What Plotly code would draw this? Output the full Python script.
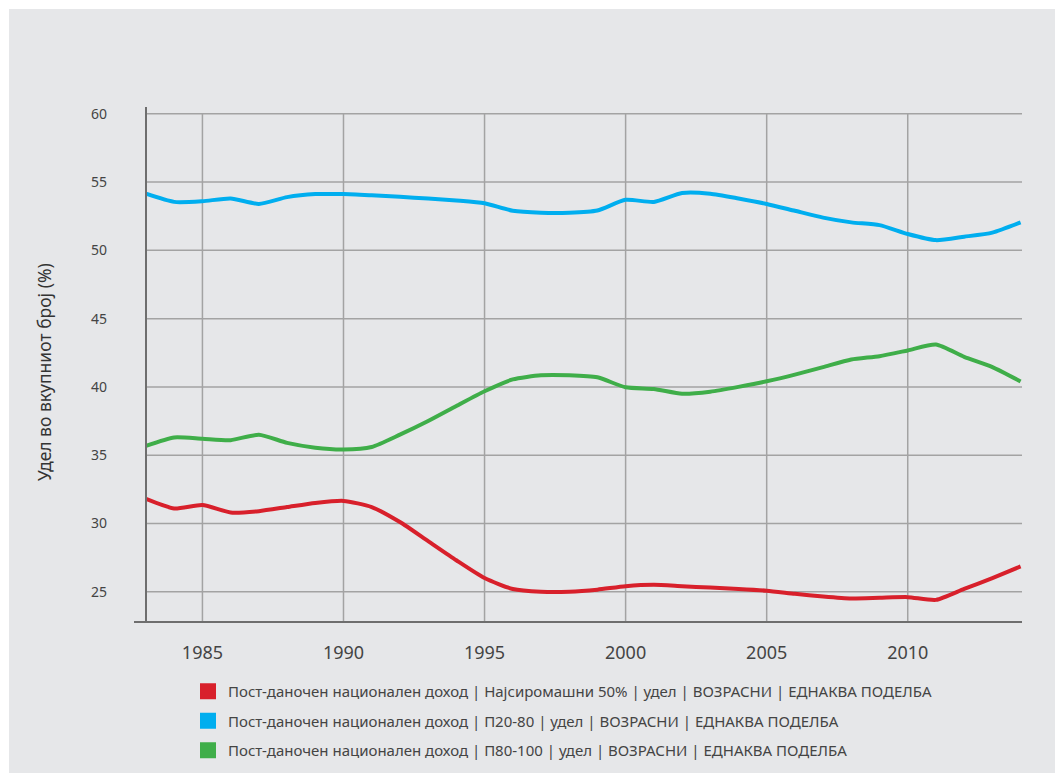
import plotly.graph_objects as go

years = list(range(1983, 2015))

# Најсиромашни 50%
bottom50 = [31.8, 31.1, 31.35, 30.8, 30.9, 31.2, 31.5, 31.65, 31.2, 30.1,
            28.7, 27.3, 26.0, 25.2, 25.0, 25.0, 25.15, 25.4, 25.5, 25.4,
            25.3, 25.2, 25.07, 24.85, 24.65, 24.5, 24.55, 24.6, 24.4, 25.2,
            26.0, 26.85]

# П20-80
p20_80 = [54.15, 53.55, 53.6, 53.8, 53.4, 53.9, 54.12, 54.12, 54.03, 53.92,
          53.8, 53.65, 53.45, 52.9, 52.76, 52.76, 52.92, 53.7, 53.55, 54.2,
          54.15, 53.8, 53.4, 52.9, 52.4, 52.05, 51.85, 51.2, 50.75, 51.0,
          51.3, 52.05]

# П80-100
p80_100 = [35.68, 36.3, 36.2, 36.1, 36.5, 35.9, 35.55, 35.42, 35.6, 36.5,
           37.5, 38.6, 39.68, 40.55, 40.85, 40.85, 40.7, 39.97, 39.85, 39.5,
           39.65, 40.0, 40.41, 40.9, 41.45, 42.0, 42.25, 42.67, 43.1, 42.2,
           41.45, 40.4]

series_names = [
    "Пост-даночен национален доход | Најсиромашни 50% | удел | ВОЗРАСНИ | ЕДНАКВА ПОДЕЛБА",
    "Пост-даночен национален доход | П20-80 | удел | ВОЗРАСНИ | ЕДНАКВА ПОДЕЛБА",
    "Пост-даночен национален доход | П80-100 | удел | ВОЗРАСНИ | ЕДНАКВА ПОДЕЛБА",
]
series_values = [bottom50, p20_80, p80_100]
colors = ["#d8202b", "#00aeef", "#3fae49"]

x_ticks = [1985, 1990, 1995, 2000, 2005, 2010]
y_ticks = [25, 30, 35, 40, 45, 50, 55, 60]

BG = "#e6e7e9"
GRID = "#a3a3a3"
AXIS = "#6e6e6e"
TXT = "#444444"

fig = go.Figure()

for i, (name, vals, col) in enumerate(zip(series_names, series_values, colors)):
    fig.add_trace(go.Scatter(
        x=years, y=vals, mode="lines",
        line=dict(color=col, width=4, shape="spline", smoothing=0.6),
        showlegend=False, hoverinfo="skip",
    ))
    # legend entry with a square marker
    fig.add_trace(go.Scatter(
        x=[None], y=[None], mode="markers", name=name,
        marker=dict(symbol="square", size=16, color=col),
        legendgroup="g%d" % i, showlegend=True,
    ))

# page has an 8px body margin, so the figure is a bit smaller than the window
OFF = 8
W, H = 1063 - OFF, 773 - OFF
L, R, T, B = 146 - OFF, 41, 107 - OFF, 151
pw, ph = W - L - R, H - T - B


# positions below are given in screenshot pixels
def px(x):
    return (x - OFF - L) / pw


def py(y):
    return (H - B - (y - OFF)) / ph


shapes = [
    # grey card background
    dict(type="rect", xref="paper", yref="paper", x0=px(9), x1=px(1063), y0=py(773), y1=py(9),
         fillcolor=BG, line=dict(width=0), layer="below"),
]
# vertical gridlines stop at 60
for xt in x_ticks:
    shapes.append(dict(type="line", xref="x", yref="y", x0=xt, x1=xt, y0=22.78, y1=60,
                       line=dict(color=GRID, width=1.5), layer="below"))
for yt in y_ticks:
    shapes.append(dict(type="line", xref="paper", yref="y", x0=0, x1=1, y0=yt, y1=yt,
                       line=dict(color=GRID, width=1.5), layer="below"))
# axis lines
shapes.append(dict(type="line", xref="paper", yref="paper", x0=px(134), x1=1, y0=0, y1=0,
                   line=dict(color=AXIS, width=2)))
shapes.append(dict(type="line", xref="paper", yref="paper", x0=0, x1=0, y0=0, y1=1,
                   line=dict(color=AXIS, width=2)))

fig.update_layout(
    width=W, height=H,
    margin=dict(l=L, r=R, t=T, b=B, autoexpand=False),
    paper_bgcolor="white",
    plot_bgcolor="rgba(0,0,0,0)",
    font=dict(family="Noto Sans", color=TXT),
    shapes=shapes,
    xaxis=dict(range=[1983, 2014.05], tickvals=x_ticks, showgrid=False, zeroline=False,
               showline=False, ticks="", tickfont=dict(size=18, color=TXT),
               ticklabelstandoff=18),
    yaxis=dict(range=[22.78, 60.5], tickvals=y_ticks, showgrid=False, zeroline=False,
               showline=False, ticks="", tickfont=dict(size=14, color=TXT),
               ticklabelstandoff=38),
    legend=dict(x=px(188), y=py(675), xanchor="left", yanchor="top",
                bgcolor="rgba(0,0,0,0)", font=dict(size=15, color=TXT),
                tracegroupgap=7, itemsizing="trace"),
    annotations=[dict(text="Удел во вкупниот број (%)", textangle=-90,
                      xref="paper", yref="paper", x=px(44), y=py(372),
                      xanchor="center", yanchor="middle",
                      showarrow=False, font=dict(size=17.5, color="#333333"))],
)

fig.write_html("out.html")
